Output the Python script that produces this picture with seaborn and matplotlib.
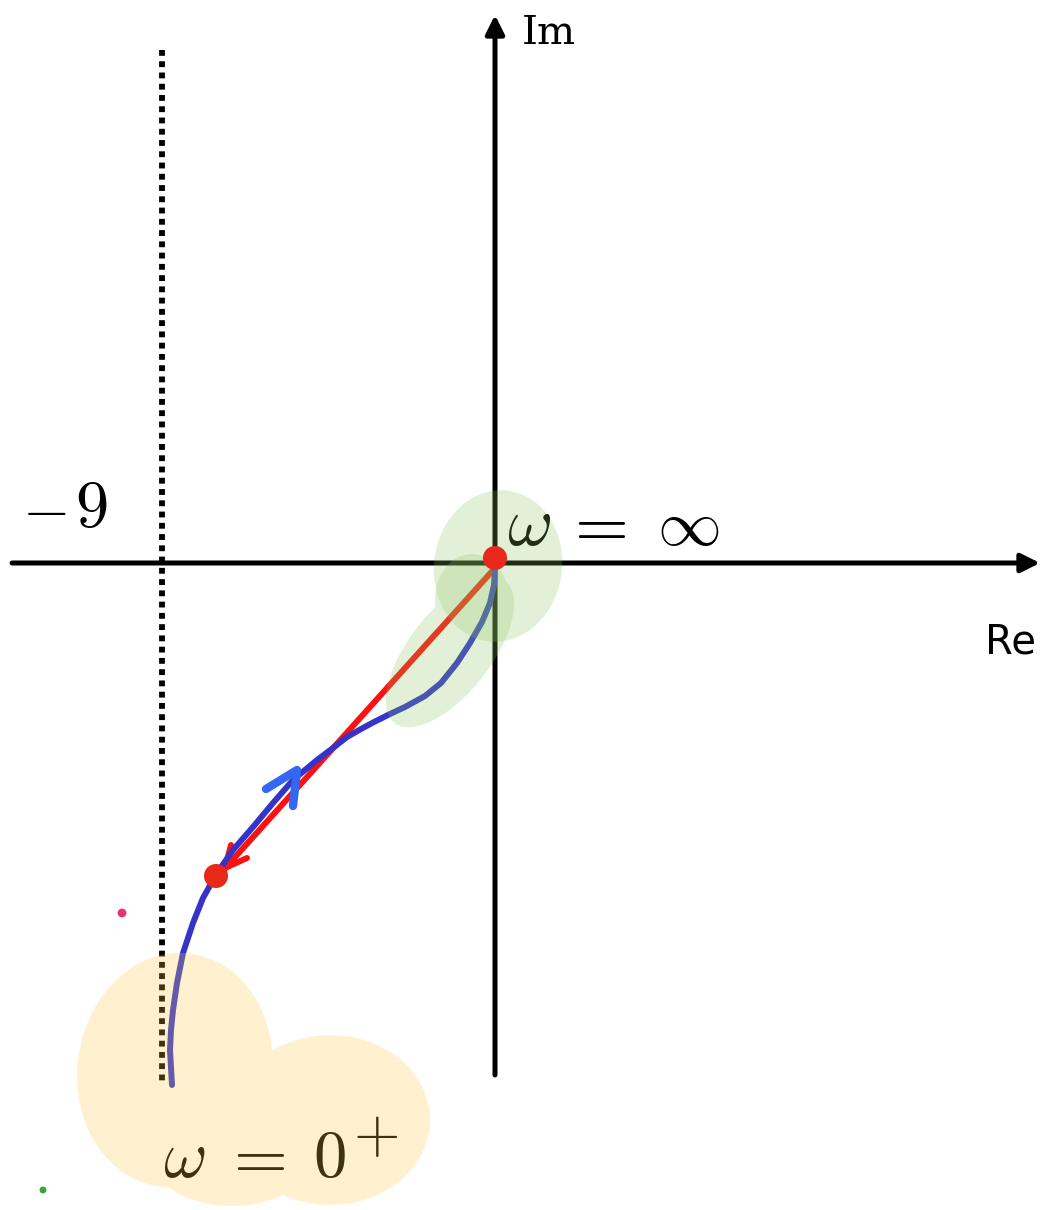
import numpy as np
import matplotlib
matplotlib.use("Agg")
import matplotlib.pyplot as plt
import seaborn as sns
import pandas as pd
from matplotlib.path import Path
from matplotlib.patches import PathPatch

# Sketch of a Nyquist locus, drawn in a pixel-like plane (y grows downward)
W, H = 1051, 1210

# axes of the complex plane
re_axis_x = [12, 1040]
re_axis_y = 563
im_axis_x = 495
im_axis_y = [1075, 15]

# critical vertical line at Re = -9
crit_x = 162
crit_y = [50, 1085]

# blue locus from omega = 0+ to omega = infinity
locus_x = [172, 170, 171, 173, 177, 183, 193, 203, 217, 233, 253, 273, 293, 317,
           333, 347, 361, 374, 390, 405, 425, 441, 457, 470, 482, 490, 494, 495]
locus_y = [1085, 1050, 1030, 1010, 983, 953, 923, 898, 873, 850, 827, 803, 780, 760,
           748, 737, 729, 722, 714, 707, 696, 683, 663, 643, 622, 603, 585, 568]

# red straight segment and its end points
seg_x = [495, 218]
seg_y = [568, 876]
dots_x = [495, 216]
dots_y = [558, 876]

# direction marks
blue_head_x = [266, 297, 293]
blue_head_y = [789, 770, 806]
red_head_x = [231, 225, 247]
red_head_y = [845, 868, 858]

# highlighter strokes: (cx, cy, width, height, angle)
green_stroke_1 = [(498, 566, 128, 152, 8)]
green_stroke_2 = [(472, 600, 74, 92, 0), (450, 652, 180, 82, -52)]
yellow_stroke = [(175, 1070, 195, 235, 8), (330, 1120, 200, 170, 0), (232, 1150, 170, 112, 0)]

sns.set_theme(style="white")
plt.rcParams["mathtext.fontset"] = "cm"

fig = plt.figure(figsize=(W / 100, H / 100), dpi=100)
ax = fig.add_axes([0, 0, 1, 1])
ax.set_xlim(0, W)
ax.set_ylim(H, 0)
ax.axis("off")


def blob_path(ellipses):
    parts = []
    t = np.linspace(0, 2 * np.pi, 120)
    for cx, cy, w, h, ang in ellipses:
        a = np.deg2rad(ang)
        ex = w / 2 * np.cos(t)
        ey = h / 2 * np.sin(t)
        px = cx + ex * np.cos(a) - ey * np.sin(a)
        py = cy + ex * np.sin(a) + ey * np.cos(a)
        parts.append(Path(np.column_stack([px, py]), closed=True))
    return Path.make_compound_path(*parts)


# critical line
ax.plot([crit_x, crit_x], crit_y, color="black", lw=4.2,
        linestyle=(0, (1.0, 0.93)), solid_capstyle="butt", zorder=2)

# axes with arrowheads
ax.annotate("", xy=(re_axis_x[1], re_axis_y), xytext=(re_axis_x[0], re_axis_y),
            arrowprops=dict(arrowstyle="-|>", color="black", lw=3.6,
                            mutation_scale=28, shrinkA=0, shrinkB=0), zorder=2)
ax.annotate("", xy=(im_axis_x, im_axis_y[1]), xytext=(im_axis_x, im_axis_y[0]),
            arrowprops=dict(arrowstyle="-|>", color="black", lw=3.6,
                            mutation_scale=28, shrinkA=0, shrinkB=0), zorder=2)

# red segment and locus
seg = pd.DataFrame({"x": seg_x, "y": seg_y})
sns.lineplot(data=seg, x="x", y="y", sort=False, estimator=None, color="#ff1010",
             lw=4.3, ax=ax, zorder=3, solid_capstyle="round")
ax.plot(red_head_x, red_head_y, color="#ff1010", lw=4.3,
        solid_capstyle="round", solid_joinstyle="round", zorder=3)

locus = pd.DataFrame({"x": locus_x, "y": locus_y})
sns.lineplot(data=locus, x="x", y="y", sort=False, estimator=None, color="#3434c8",
             lw=4.3, ax=ax, zorder=4, solid_joinstyle="round")
ax.plot(blue_head_x, blue_head_y, color="#3268f4", lw=6,
        solid_capstyle="round", solid_joinstyle="round", zorder=4)

# stray ink dots
ax.scatter([122], [913], s=40, color="#e8336b", edgecolor="none", zorder=5)
ax.scatter([43], [1190], s=25, color="#3aa33a", edgecolor="none", zorder=5)

# labels
ink = dict(color="black", va="baseline", ha="left")
ax.text(22, 527, r"$-$", fontsize=44, **ink)
ax.text(75, 527, r"$9$", fontsize=48, **ink)
ax.text(522, 44, "Im", fontsize=29, family="DejaVu Serif", **ink)
ax.text(985, 654, "Re", fontsize=29, family="DejaVu Sans", **ink)

ax.text(507, 545, r"$\omega$", fontsize=50, zorder=6, **ink)
ax.text(562, 545, r"$=$", fontsize=50, zorder=6, **ink)
ax.text(657, 545, r"$\infty$", fontsize=46, zorder=6, **ink)

ax.text(163, 1177, r"$\omega$", fontsize=48, zorder=6, **ink)
ax.text(221, 1177, r"$=$", fontsize=50, zorder=6, **ink)
ax.text(313, 1177, r"$0$", fontsize=48, zorder=6, **ink)
ax.text(353, 1152, r"$+$", fontsize=43, zorder=6, **ink)

# translucent highlighter strokes over the drawing
for strokes in (green_stroke_1, green_stroke_2):
    ax.add_patch(PathPatch(blob_path(strokes), facecolor="#8cc25f", alpha=0.24,
                           edgecolor="none", zorder=7))
ax.add_patch(PathPatch(blob_path(yellow_stroke), facecolor="#ffcb47", alpha=0.25,
                       edgecolor="none", zorder=7))

# end points of the red segment, drawn on top
sns.scatterplot(x=dots_x, y=dots_y, s=300, color="#e8281a", edgecolor="none",
                ax=ax, zorder=8)

fig.savefig("out.png", dpi=100)
